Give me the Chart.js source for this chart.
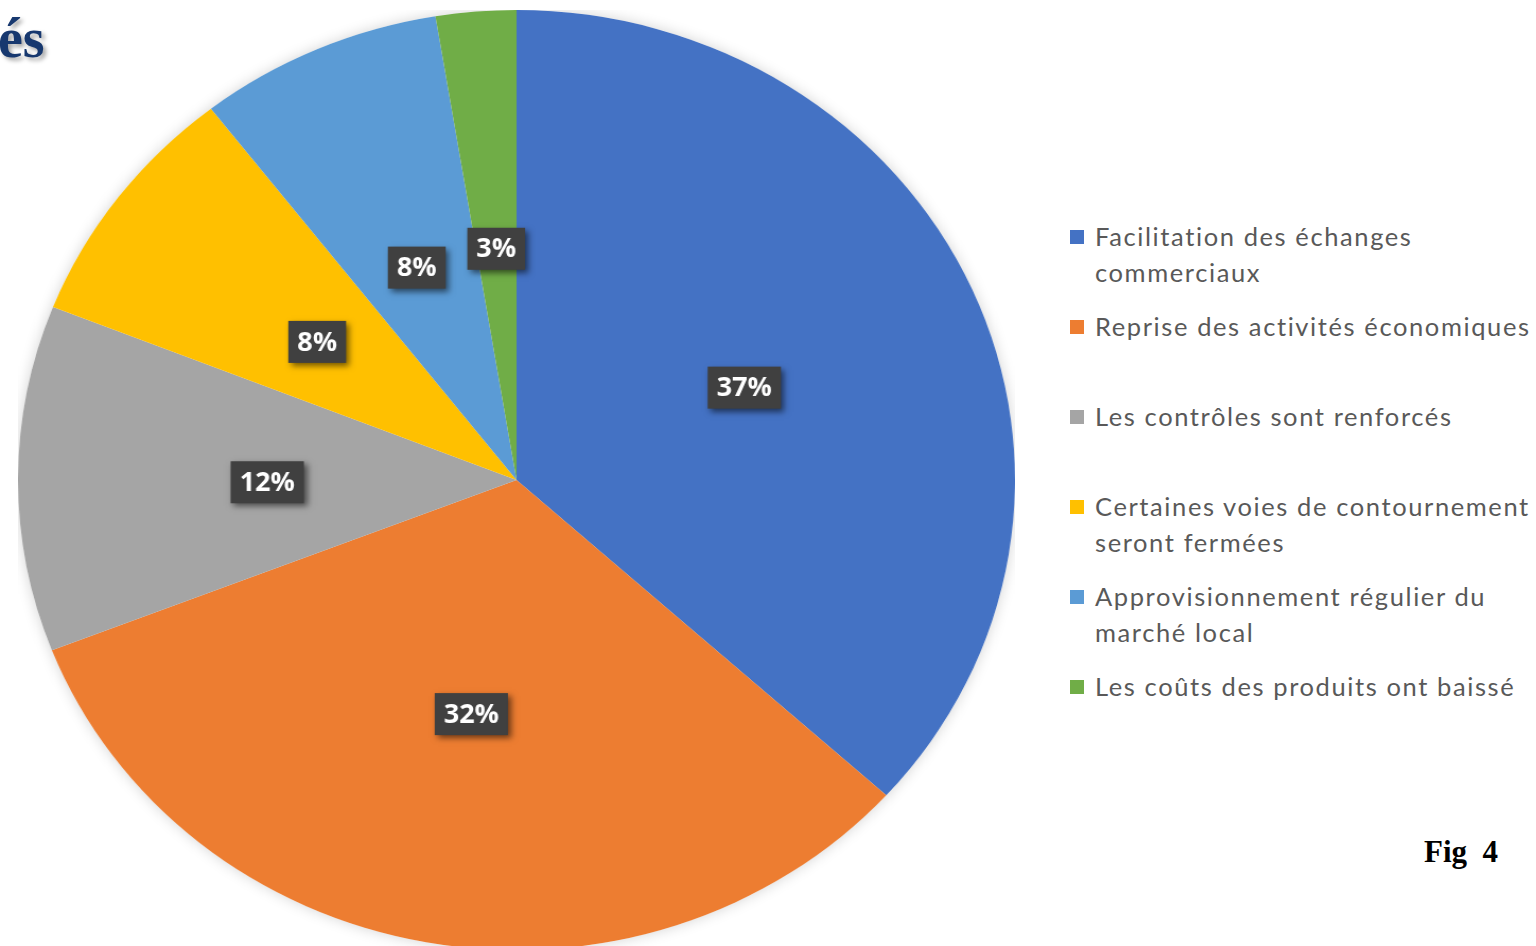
<!DOCTYPE html>
<html>
<head>
<meta charset="utf-8">
<script src="https://cdn.jsdelivr.net/npm/chart.js@4/dist/chart.umd.min.js"></script>
<style>
  html, body { margin: 0; padding: 0; background: #fff; width: 1536px; height: 946px; overflow: hidden; position: relative; }
  #title { position: absolute; left: -2px; top: 10px; font-family: "Liberation Serif", serif; font-weight: bold; font-size: 56px; color: #17386f; text-shadow: 3px 3px 4px rgba(0,0,0,0.35); line-height: 1; }
  #wrap { position: absolute; left: 18px; top: 10px; width: 997px; height: 940px; }
  #pie { width: 997px !important; height: 940px !important; }
  #legend { position: absolute; left: 1068px; top: 218px; margin: 0; padding: 0; list-style: none; font-family: Lato, "Open Sans", sans-serif; font-size: 25.5px; letter-spacing: 1.6px; color: #595959; }
  #legend li { height: 90px; position: relative; padding-left: 27px; line-height: 36px; white-space: nowrap; }
  #legend li span.m { position: absolute; left: 2px; top: 12px; width: 14px; height: 14px; }
  #fig { position: absolute; left: 1424px; top: 834px; font-family: "Liberation Serif", serif; font-weight: bold; font-size: 31px; color: #000; white-space: pre; }
</style>
</head>
<body>
<div id="title">és</div>
<div id="wrap"><canvas id="pie" width="940" height="940"></canvas></div>
<ul id="legend"></ul>
<div id="fig">Fig  4</div>
<script>
const categories = [
  ["Facilitation des échanges", "commerciaux"],
  ["Reprise des activités économiques"],
  ["Les contrôles sont renforcés"],
  ["Certaines voies de contournement", "seront fermées"],
  ["Approvisionnement régulier du", "marché local"],
  ["Les coûts des produits ont baissé"]
];
const values = [36.7, 32.4, 11.9, 8.5, 7.9, 2.6];
const valueLabels = ["37%", "32%", "12%", "8%", "8%", "3%"];
const colors = ["#4472C4", "#ED7D31", "#A5A5A5", "#FFC000", "#5B9BD5", "#70AD47"];

// HTML legend built from arrays
const legend = document.getElementById('legend');
categories.forEach((lines, i) => {
  const li = document.createElement('li');
  const m = document.createElement('span');
  m.className = 'm';
  m.style.background = colors[i];
  li.appendChild(m);
  lines.forEach((t, j) => {
    if (j > 0) li.appendChild(document.createElement('br'));
    li.appendChild(document.createTextNode(t));
  });
  legend.appendChild(li);
});

const SX = 997 / 940;

const shadowPlugin = {
  id: 'pieShadow',
  beforeDatasetsDraw(chart) {
    const arc = chart.getDatasetMeta(0).data[0];
    if (!arc) return;
    const ctx = chart.ctx;
    ctx.save();
    ctx.shadowColor = 'rgba(0,0,0,0.18)';
    ctx.shadowBlur = 14;
    ctx.fillStyle = '#fff';
    ctx.beginPath();
    ctx.arc(arc.x, arc.y, arc.outerRadius, 0, Math.PI * 2);
    ctx.fill();
    ctx.restore();
  }
};

const labelPlugin = {
  id: 'boxLabels',
  afterDatasetsDraw(chart) {
    const ctx = chart.ctx;
    const meta = chart.getDatasetMeta(0);
    meta.data.forEach((arc, i) => {
      const p = arc.tooltipPosition();
      const txt = valueLabels[i];
      ctx.save();
      ctx.translate(p.x, p.y + 3);
      ctx.scale(1 / SX, 1);
      ctx.font = 'bold 27px "Open Sans", sans-serif';
      const w = ctx.measureText(txt).width + 18;
      const h = 42;
      ctx.shadowColor = 'rgba(0,0,0,0.55)';
      ctx.shadowBlur = 6;
      ctx.shadowOffsetX = 3;
      ctx.shadowOffsetY = 3;
      ctx.fillStyle = '#404040';
      ctx.fillRect(-w / 2, -h / 2, w, h);
      ctx.shadowColor = 'transparent';
      ctx.fillStyle = '#ffffff';
      ctx.textAlign = 'center';
      ctx.textBaseline = 'middle';
      ctx.fillText(txt, 0, 1);
      ctx.restore();
    });
  }
};

new Chart(document.getElementById('pie'), {
  type: 'pie',
  data: {
    labels: categories,
    datasets: [{
      data: values,
      backgroundColor: colors,
      borderWidth: 0
    }]
  },
  options: {
    responsive: false,
    animation: false,
    layout: { padding: 0 },
    plugins: {
      legend: { display: false },
      tooltip: { enabled: false }
    }
  },
  plugins: [shadowPlugin, labelPlugin]
});
</script>
</body>
</html>
